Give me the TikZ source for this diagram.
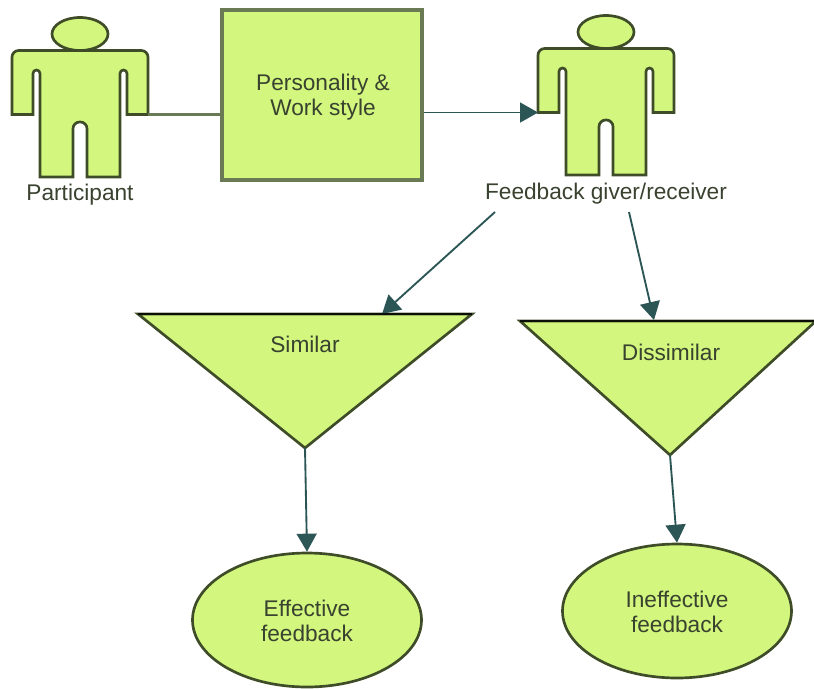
\documentclass[tikz,border=0pt]{standalone}
\usepackage{fontspec}
\setmainfont{Liberation Sans}
\usetikzlibrary{arrows.meta,shapes.geometric}

\definecolor{shapefill}{HTML}{D2F67E}
\definecolor{shapeline}{HTML}{3E4C28}
\definecolor{boxline}{HTML}{6A7A55}
\definecolor{flowline}{HTML}{2C5656}
\definecolor{labeltext}{HTML}{39422F}

\tikzset{every picture/.style={line width=0.75pt}}
\tikzset{
  bodyshape/.style={draw=shapeline,fill=shapefill,line width=2pt},
  wordlabel/.style={text=labeltext,inner sep=0.75pt,align=center,font=\fontsize{17}{18.75}\selectfont},
  flow/.style={draw=flowline,line width=1.4pt,-{Triangle[length=13.5pt,width=15pt]}},
  plainflow/.style={draw=boxline,line width=1.6pt},
  person/.pic={
    %Body
    \draw [bodyshape] (-68,80.5) [rounded corners=5pt] -- (-68,16.5) -- (68,16.5) [sharp corners] -- (68,80.5) -- (47,80.5)
      [rounded corners=2.6pt] -- (47,36) -- (40,36) [sharp corners] -- (40,143) -- (7,143)
      [rounded corners=5pt] -- (7,88) -- (-7,88) [sharp corners] -- (-7,143) -- (-40,143)
      [rounded corners=2.6pt] -- (-40,36) -- (-47,36) [sharp corners] -- (-47,80.5) -- cycle ;
    %Head
    \draw [bodyshape] (0,0) ellipse (28 and 16.5) ;
    \coordinate (-handleft) at (-68,80.5);
    \coordinate (-handright) at (68,80.5);
  }
}

\begin{document}
\begin{tikzpicture}[x=0.75pt,y=0.75pt,yscale=-1]
\useasboundingbox (0,0) rectangle (814,689);

%Figures
\pic (participant) [transform shape] at (80,34) {person};
\pic (giver) [transform shape] at (606,32) {person};

%Square
\node (stylebox) [draw=boxline,fill=shapefill,line width=2.6pt,minimum width=150pt,minimum height=127.5pt,inner sep=0pt] at (322,95) {};

%Triangles
\coordinate (similarleft) at (138,314);
\coordinate (similarright) at (472,314);
\coordinate (similartip) at (305,448);
\coordinate (dissimilarleft) at (520,321);
\coordinate (dissimilarright) at (816,321);
\coordinate (dissimilartip) at (670,455);
\draw [bodyshape,line join=miter] (similarleft) -- (similarright) -- (similartip) -- cycle ;
\draw [bodyshape,line join=miter] (dissimilarleft) -- (dissimilarright) -- (dissimilartip) -- cycle ;

%Ellipses
\node (effective) [ellipse,draw=shapeline,fill=shapefill,line width=2pt,minimum width=171.75pt,minimum height=100.5pt,inner sep=0pt] at (307,620) {};
\node (ineffective) [ellipse,draw=shapeline,fill=shapefill,line width=2pt,minimum width=171.75pt,minimum height=100.5pt,inner sep=0pt] at (677,611) {};

%Free ends below the giver label
\coordinate (giverfootleft) at (495,212);
\coordinate (giverfootright) at (629,212);
\coordinate (similartop) at (382,314);
\coordinate (dissimilartop) at (654,320);

%Straight Lines
\draw [plainflow] (participant-handright) -- (stylebox.west |- participant-handright) ;
\draw [flow] (stylebox.east |- giver-handleft) -- (giver-handleft) ;
\draw [flow] (giverfootleft) -- (similartop) ;
\draw [flow] (giverfootright) -- (dissimilartop) ;
\draw [flow] (similartip) -- (effective.north) ;
\draw [flow] (dissimilartip) -- (ineffective.north) ;

%Top edges
\draw [draw=black!80!shapeline,line width=2pt] (similarleft) -- (similarright) ;
\draw [draw=black!80!shapeline,line width=2pt] (dissimilarleft) -- (dissimilarright) ;

% Text Node
\node (participantlabel) [wordlabel] at (80,195) {Participant};
% Text Node
\node (giverlabel) [wordlabel] at (606,194) {Feedback giver/receiver};
% Text Node
\node (styletext) [wordlabel] at (323,97.5) {Personality \&\\Work style};
% Text Node
\node (similartext) [wordlabel] at (305,344) {Similar};
% Text Node
\node (dissimilartext) [wordlabel] at (671,352) {Dissimilar};
% Text Node
\node (effectivetext) [wordlabel] at (307,620.5) {Effective\\feedback};
% Text Node
\node (ineffectivetext) [wordlabel] at (677,612) {Ineffective\\feedback};

\end{tikzpicture}
\end{document}
